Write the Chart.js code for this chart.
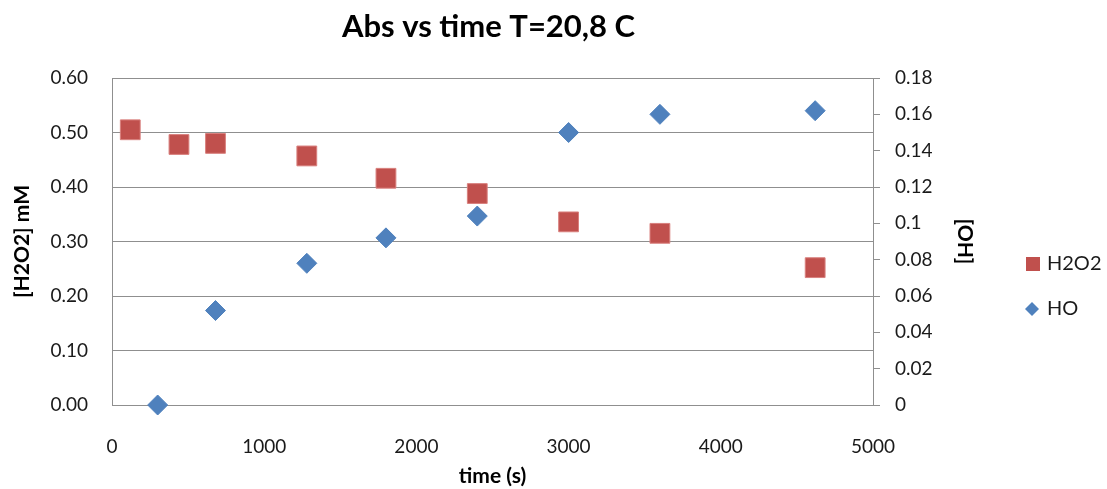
<!DOCTYPE html>
<html>
<head>
<meta charset="utf-8">
<script src="https://cdn.jsdelivr.net/npm/chart.js@4.4.0/dist/chart.umd.min.js"></script>
<style>
  html, body { margin: 0; padding: 0; background: #fff; }
  #wrap { width: 1107px; height: 489px; }
</style>
</head>
<body>
<div id="wrap"><canvas id="chart-canvas" width="1107" height="489"></canvas></div>
<script>
// values
let timeH2O2 = [120, 440, 680, 1280, 1800, 2400, 3000, 3600, 4620];
let h2o2 = [0.505, 0.478, 0.48, 0.457, 0.416, 0.388, 0.336, 0.315, 0.252];

let timeHO = [300, 680, 1280, 1800, 2400, 3000, 3600, 4620];
let ho = [0, 0.052, 0.078, 0.092, 0.104, 0.15, 0.16, 0.162];

let leftTickLabels = ["0.00", "0.10", "0.20", "0.30", "0.40", "0.50", "0.60"];
let rightTickLabels = ["0", "0.02", "0.04", "0.06", "0.08", "0.1", "0.12", "0.14", "0.16", "0.18"];
let xTickLabels = ["0", "1000", "2000", "3000", "4000", "5000"];

let red = "#C0504D";
let blue = "#4F81BD";
let gridGray = "#8f8f8f";
let fontName = "Lato, 'Open Sans', sans-serif";

function toPoints(xs, ys) {
  return xs.map(function (x, i) {
    return { x: x, y: ys[i] };
  });
}

// legend drawn by hand to the right of the plot
let sideLegend = {
  id: "sideLegend",
  afterDraw: function (chart) {
    let ctx = chart.ctx;
    ctx.save();
    ctx.font = "20px " + fontName;
    ctx.textBaseline = "middle";

    ctx.fillStyle = red;
    ctx.fillRect(1026, 257, 14, 14);
    ctx.fillStyle = "#1a1a1a";
    ctx.fillText("H2O2", 1047, 264);

    ctx.fillStyle = blue;
    ctx.beginPath();
    ctx.moveTo(1032, 302);
    ctx.lineTo(1039, 309);
    ctx.lineTo(1032, 316);
    ctx.lineTo(1025, 309);
    ctx.closePath();
    ctx.fill();
    ctx.fillStyle = "#1a1a1a";
    ctx.fillText("HO", 1047, 309);
    ctx.restore();
  },
};

let chart = document.getElementById("chart-canvas").getContext("2d");

let chart1 = new Chart(chart, {
  type: "scatter",
  data: {
    datasets: [
      {
        label: "H2O2",
        data: toPoints(timeH2O2, h2o2),
        yAxisID: "y",
        pointStyle: "rect",
        pointRadius: 14,
        pointHoverRadius: 14,
        backgroundColor: red,
        borderColor: "#d9807e",
        borderWidth: 1,
        clip: false,
      },
      {
        label: "HO",
        data: toPoints(timeHO, ho),
        yAxisID: "y1",
        pointStyle: "rectRot",
        pointRadius: 10,
        pointHoverRadius: 10,
        backgroundColor: blue,
        borderColor: blue,
        borderWidth: 1,
        clip: false,
      },
    ],
  },
  options: {
    responsive: false,
    animation: false,
    layout: { padding: { left: 0, right: 130, top: 0, bottom: 0 } },
    plugins: {
      legend: { display: false },
      tooltip: { enabled: false },
      title: {
        display: true,
        text: "Abs vs time T=20,8 C",
        color: "#000",
        font: { family: fontName, size: 31, weight: "bold" },
        padding: { top: 8, bottom: 32.8 },
      },
    },
    scales: {
      x: {
        type: "linear",
        min: 0,
        max: 5000,
        grid: { display: false },
        border: { display: false },
        ticks: {
          stepSize: 1000,
          padding: 22,
          color: "#1a1a1a",
          font: { family: fontName, size: 19 },
          maxRotation: 0,
          callback: function (value, index) {
            return xTickLabels[index];
          },
        },
        title: {
          display: true,
          text: "time (s)",
          color: "#000",
          font: { family: fontName, size: 21, weight: "bold" },
          padding: { top: 0, bottom: 0 },
        },
        afterFit: function (scale) {
          scale.height = 84;
        },
      },
      y: {
        type: "linear",
        position: "left",
        min: 0,
        max: 0.6,
        grid: { color: gridGray, lineWidth: 1, drawTicks: false },
        border: { display: true, color: gridGray, width: 1 },
        ticks: {
          stepSize: 0.1,
          padding: 24,
          color: "#1a1a1a",
          font: { family: fontName, size: 19 },
          callback: function (value, index) {
            return leftTickLabels[index];
          },
        },
        title: {
          display: true,
          text: "[H2O2] mM",
          color: "#000",
          font: { family: fontName, size: 21, weight: "bold" },
          padding: { top: 10, bottom: 0 },
        },
        afterFit: function (scale) {
          scale.width = 112;
        },
      },
      y1: {
        type: "linear",
        position: "right",
        min: 0,
        max: 0.18,
        grid: {
          drawOnChartArea: false,
          drawTicks: true,
          tickLength: 7,
          color: gridGray,
          lineWidth: 1,
        },
        border: { display: true, color: gridGray, width: 1 },
        ticks: {
          stepSize: 0.02,
          padding: 15,
          color: "#1a1a1a",
          font: { family: fontName, size: 19 },
          callback: function (value, index) {
            return rightTickLabels[index];
          },
        },
        title: {
          display: true,
          text: "[OH]",
          color: "#000",
          font: { family: fontName, size: 21, weight: "bold" },
          padding: { top: 0, bottom: 0 },
        },
        afterFit: function (scale) {
          scale.width = 104;
        },
      },
    },
  },
  plugins: [sideLegend],
});
</script>
</body>
</html>
